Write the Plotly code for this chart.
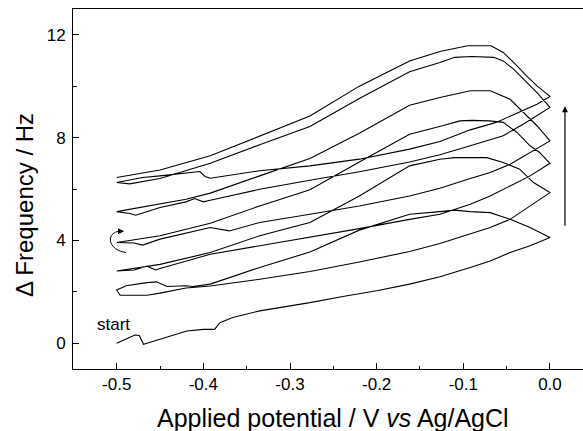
import plotly.graph_objects as go

# ---- data (potential / V, delta frequency / Hz) ----
# cycle 1
a1_E = [-0.5, -0.489, -0.479, -0.474, -0.469, -0.465, -0.44, -0.419, -0.40, -0.387, -0.381, -0.366,
        -0.335, -0.277, -0.239, -0.20, -0.162, -0.127, -0.092, -0.069, -0.046, -0.023, 0.0]
a1_f = [0.0, 0.16, 0.32, 0.30, -0.04, 0.0, 0.25, 0.48, 0.54, 0.54, 0.80, 1.0,
        1.26, 1.58, 1.82, 2.04, 2.30, 2.59, 2.95, 3.20, 3.53, 3.79, 4.11]
c1_E = [0.0, -0.023, -0.046, -0.069, -0.092, -0.11, -0.127, -0.162, -0.22, -0.277, -0.335,
        -0.392, -0.412, -0.42, -0.442, -0.454, -0.465, -0.489, -0.5]
c1_f = [4.11, 4.50, 4.82, 5.08, 5.12, 5.18, 5.12, 5.02, 4.40, 3.55, 2.95,
        2.30, 2.21, 2.24, 2.21, 2.39, 2.36, 2.24, 2.07]
# cycle 2
a2_E = [-0.5, -0.496, -0.465, -0.45, -0.42, -0.392, -0.335, -0.277, -0.22, -0.162, -0.127,
        -0.092, -0.069, -0.046, -0.023, 0.0]
a2_f = [2.07, 1.87, 1.87, 1.95, 2.15, 2.23, 2.49, 2.79, 3.16, 3.57, 3.88,
        4.24, 4.50, 4.82, 5.34, 5.86]
c2_E = [0.0, -0.019, -0.035, -0.054, -0.073, -0.092, -0.11, -0.127, -0.162, -0.22, -0.277,
        -0.335, -0.392, -0.45, -0.5]
c2_f = [5.86, 6.25, 6.77, 7.03, 7.22, 7.22, 7.22, 7.16, 6.90, 5.73, 4.70,
        4.18, 3.53, 3.07, 2.81]
# cycle 3
a3_E = [-0.5, -0.48, -0.465, -0.455, -0.45, -0.392, -0.335, -0.277, -0.22, -0.162, -0.127,
        -0.092, -0.069, -0.046, -0.023, 0.0]
a3_f = [2.81, 2.85, 3.00, 2.85, 2.91, 3.46, 3.79, 4.11, 4.46, 4.82, 5.02,
        5.41, 5.73, 6.12, 6.51, 7.00]
c3_E = [0.0, -0.012, -0.023, -0.038, -0.054, -0.07, -0.09, -0.104, -0.124, -0.162, -0.22,
        -0.277, -0.335, -0.392, -0.45, -0.5]
c3_f = [7.00, 7.42, 7.68, 8.20, 8.59, 8.65, 8.67, 8.65, 8.46, 8.13, 7.05,
        5.97, 5.34, 4.67, 4.18, 3.92]
# cycle 4
a4_E = [-0.5, -0.48, -0.47, -0.45, -0.392, -0.37, -0.335, -0.277, -0.22, -0.162, -0.127,
        -0.092, -0.069, -0.046, -0.023, 0.0]
a4_f = [3.92, 3.90, 3.82, 4.05, 4.50, 4.37, 4.70, 5.02, 5.34, 5.73, 6.03,
        6.41, 6.64, 6.96, 7.42, 7.87]
c4_E = [0.0, -0.015, -0.031, -0.046, -0.069, -0.092, -0.127, -0.162, -0.22, -0.277, -0.335,
        -0.392, -0.42, -0.45, -0.5]
c4_f = [7.87, 8.46, 8.98, 9.49, 9.82, 9.82, 9.56, 9.26, 8.17, 7.19, 6.51,
        5.84, 5.60, 5.41, 5.12]
# cycle 5
a5_E = [-0.5, -0.485, -0.478, -0.45, -0.42, -0.41, -0.40, -0.392, -0.335, -0.277, -0.22,
        -0.162, -0.127, -0.092, -0.054, -0.031, -0.015, 0.0]
a5_f = [5.12, 5.05, 4.98, 5.28, 5.50, 5.63, 5.50, 5.56, 5.99, 6.34, 6.67,
        7.05, 7.33, 7.68, 8.07, 8.52, 8.84, 9.17]
c5_E = [0.0, -0.015, -0.031, -0.042, -0.054, -0.065, -0.09, -0.11, -0.127, -0.162, -0.22,
        -0.277, -0.335, -0.392, -0.45, -0.485, -0.5]
c5_f = [9.17, 9.75, 10.27, 10.66, 10.98, 11.12, 11.15, 11.12, 10.92, 10.56, 9.52,
        8.43, 7.72, 7.00, 6.41, 6.20, 6.25]
# cycle 6
a6_E = [-0.5, -0.47, -0.45, -0.41, -0.404, -0.398, -0.392, -0.335, -0.277, -0.22, -0.162,
        -0.127, -0.092, -0.062, -0.035, -0.015, 0.0]
a6_f = [6.25, 6.45, 6.51, 6.68, 6.68, 6.49, 6.42, 6.71, 6.90, 7.16, 7.55,
        7.85, 8.30, 8.59, 8.98, 9.30, 9.60]
c6_E = [0.0, -0.015, -0.027, -0.038, -0.054, -0.068, -0.095, -0.127, -0.162, -0.22, -0.277,
        -0.335, -0.392, -0.45, -0.5]
c6_f = [9.60, 10.01, 10.40, 10.79, 11.31, 11.57, 11.57, 11.35, 10.98, 10.00, 8.84,
        8.07, 7.29, 6.74, 6.45]

x_tickvals = [-0.5, -0.4, -0.3, -0.2, -0.1, 0.0]
x_ticktext = ["-0.5", "-0.4", "-0.3", "-0.2", "-0.1", "0.0"]
y_tickvals = [0, 4, 8, 12]
y_ticktext = ["0", "4", "8", "12"]

segments_E = [a1_E, c1_E, a2_E, c2_E, a3_E, c3_E, a4_E, c4_E, a5_E, c5_E, a6_E, c6_E]
segments_f = [a1_f, c1_f, a2_f, c2_f, a3_f, c3_f, a4_f, c4_f, a5_f, c5_f, a6_f, c6_f]

E_all, f_all = [], []
for e, f in zip(segments_E, segments_f):
    E_all.extend(e)
    f_all.extend(f)

FONT = "Liberation Sans, Arial, Helvetica, sans-serif"

fig = go.Figure()
fig.add_trace(go.Scatter(x=E_all, y=f_all, mode="lines",
                         line=dict(color="black", width=1.1), showlegend=False,
                         hoverinfo="skip"))

fig.update_layout(
    width=583, height=431,
    margin=dict(l=73, r=0, t=9, b=62, pad=0, autoexpand=False),
    paper_bgcolor="white", plot_bgcolor="white",
    font=dict(family=FONT, color="black", size=17),
    showlegend=False,
    xaxis=dict(range=[-0.5504, 0.0381], tickmode="array", tickvals=x_tickvals,
               ticktext=x_ticktext, ticks="inside", ticklen=6, tickwidth=1,
               tickcolor="black", showline=True, linecolor="black", linewidth=1,
               mirror=True, showgrid=False, zeroline=False, automargin=False,
               tickfont=dict(size=17, family=FONT), ticklabelstandoff=0,
               minor=dict(ticks="inside", ticklen=3.5, tickwidth=1, tickcolor="black",
                          tick0=0, dtick=0.05, showgrid=False)),
    yaxis=dict(range=[-1, 13], tickmode="array", tickvals=y_tickvals,
               ticktext=y_ticktext, ticks="inside", ticklen=6, tickwidth=1,
               tickcolor="black", showline=True, linecolor="black", linewidth=1,
               mirror=False, showgrid=False, zeroline=False, automargin=False,
               tickfont=dict(size=17, family=FONT), ticklabelstandoff=3,
               minor=dict(ticks="inside", ticklen=3.5, tickwidth=1, tickcolor="black",
                          tick0=0, dtick=2, showgrid=False)),
)

# axis titles
fig.add_annotation(text="Applied potential / V <i>vs</i> Ag/AgCl", xref="paper", yref="paper",
                   x=(332.5 - 73) / 510, y=(369 - 417.5) / 360, xanchor="center",
                   yanchor="middle", showarrow=False, font=dict(size=25, family=FONT))
fig.add_annotation(text="\u0394 Frequency / Hz", xref="paper", yref="paper",
                   x=(24 - 73) / 510, y=(369 - 205) / 360, xanchor="center",
                   yanchor="middle", textangle=-90, showarrow=False,
                   font=dict(size=24, family=FONT))

# "start" label
fig.add_annotation(text="start", x=-0.5042, y=0.74, xref="x", yref="y", showarrow=False,
                   font=dict(size=17, family=FONT))

# vertical arrow (increasing cycles)
fig.add_annotation(x=0.0173, y=9.22, ax=0.0173, ay=4.51, xref="x", yref="y",
                   axref="x", ayref="y", text="", showarrow=True, arrowhead=2,
                   arrowsize=1, arrowwidth=1.2, arrowcolor="black", standoff=0)

# curved arrow showing sweep direction
fig.add_shape(type="path", xref="x", yref="y",
              path="M -0.4893,3.53 C -0.5095,3.62 -0.5135,4.25 -0.4975,4.36",
              line=dict(color="black", width=1))
fig.add_annotation(x=-0.4915, y=4.36, ax=-0.4985, ay=4.36, xref="x", yref="y",
                   axref="x", ayref="y", text="", showarrow=True, arrowhead=2,
                   arrowsize=1, arrowwidth=1.2, arrowcolor="black", standoff=0)

fig.write_html("out.html", config={"displayModeBar": False},
               post_script="document.body.style.margin='0';document.body.style.overflow='hidden';")
